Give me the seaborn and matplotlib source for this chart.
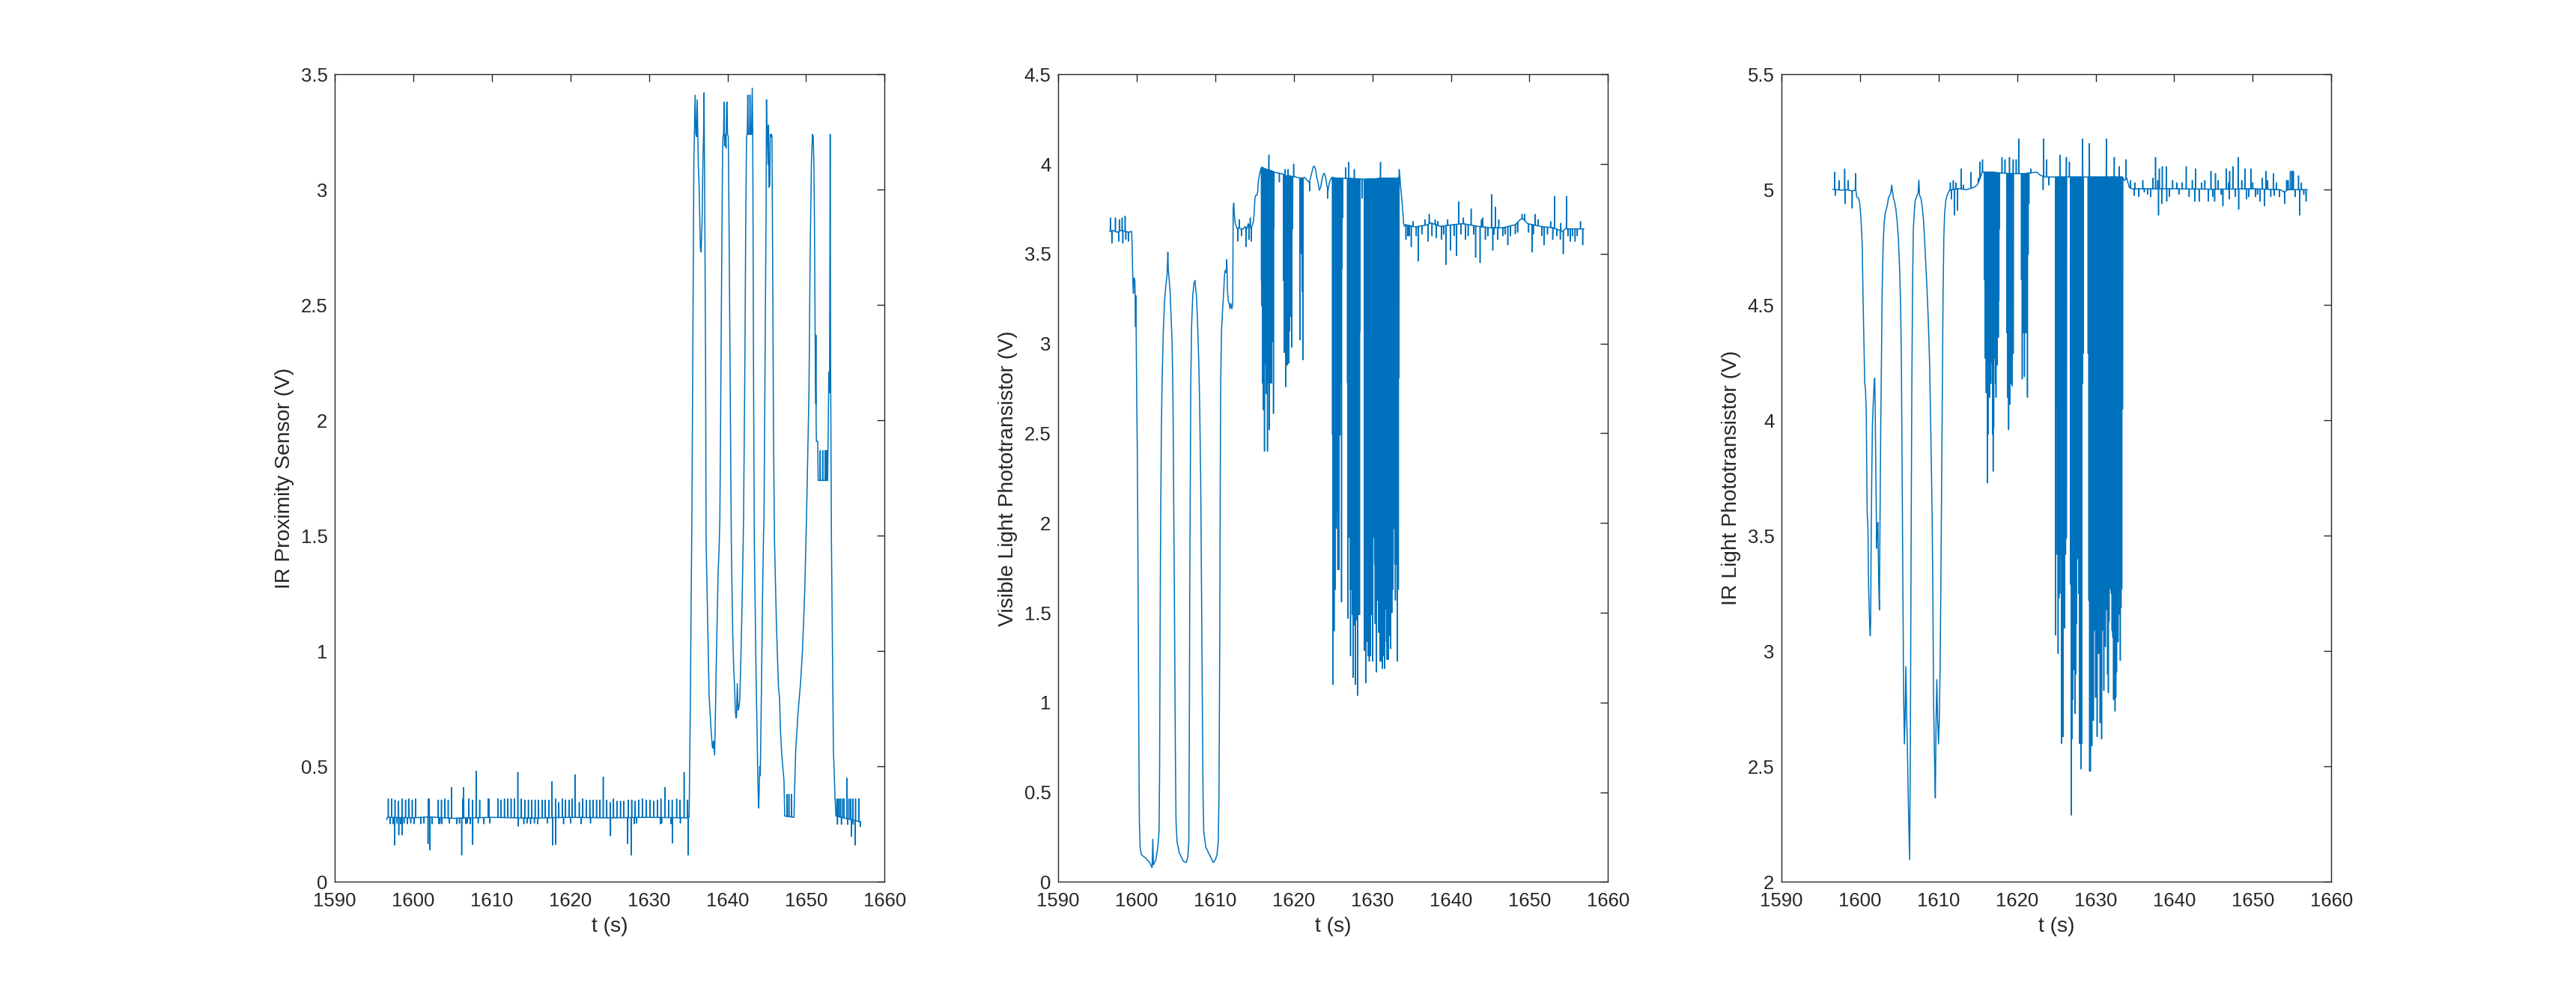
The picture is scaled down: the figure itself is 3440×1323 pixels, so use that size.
import numpy as np
import pandas as pd
import matplotlib
matplotlib.use("Agg")
import matplotlib.pyplot as plt
from matplotlib.ticker import FuncFormatter, MultipleLocator
import seaborn as sns

# ---------------- IR proximity sensor (left) ----------------
prox_t = [1596.58, 1596.70, 1600.0, 1602.0, 1605.0, 1610.0, 1615.0, 1620.0, 1625.0, 1630.0, 1635.0, 1635.11,
          1635.27, 1635.36, 1635.46, 1635.58, 1635.71, 1635.78, 1635.87, 1635.97, 1636.06, 1636.13, 1636.22,
          1636.28, 1636.38, 1636.44, 1636.54, 1636.63, 1636.76, 1636.86, 1636.95, 1637.01, 1637.11, 1637.21,
          1637.27, 1637.49, 1637.65, 1637.87, 1638.03, 1638.10, 1638.16, 1638.22, 1638.35, 1638.45, 1638.54,
          1638.67, 1638.80, 1638.92, 1639.02, 1639.11, 1639.24, 1639.37, 1639.43, 1639.49, 1639.56, 1639.62,
          1639.72, 1639.81, 1639.88, 1639.94, 1640.00, 1640.10, 1640.19, 1640.35, 1640.48, 1640.58, 1640.67,
          1640.77, 1640.89, 1640.99, 1641.08, 1641.15, 1641.24, 1641.34, 1641.47, 1641.56, 1641.72, 1641.85,
          1641.97, 1642.04, 1642.20, 1642.32, 1642.42, 1642.51, 1642.58, 1642.64, 1642.80, 1642.86, 1642.93,
          1643.05, 1643.15, 1643.21, 1643.25, 1643.31, 1643.41, 1643.63, 1643.75, 1643.85, 1643.95, 1644.01,
          1644.10, 1644.17, 1644.26, 1644.36, 1644.45, 1644.58, 1644.64, 1644.80, 1644.90, 1644.96, 1645.03,
          1645.06, 1645.15, 1645.22, 1645.28, 1645.38, 1645.44, 1645.53, 1645.60, 1645.66, 1645.76, 1645.85,
          1645.98, 1646.23, 1646.49, 1646.62, 1646.74, 1646.87, 1647.03, 1647.19, 1647.28, 1648.46, 1648.55,
          1648.68, 1648.97, 1649.29, 1649.54, 1649.83, 1650.05, 1650.37, 1650.52, 1650.68, 1650.81, 1650.91,
          1651.00, 1651.07, 1651.16, 1651.23, 1651.32, 1651.48, 1651.54, 1652.75, 1652.90, 1652.99, 1653.07,
          1653.13, 1653.23, 1653.39, 1653.48, 1653.58, 1653.67, 1653.80, 1656.98]
prox_v = [0.27, 0.28, 0.278, 0.282, 0.276, 0.28, 0.277, 0.28, 0.278, 0.28, 0.278, 0.28,
          0.79, 1.20, 1.57, 2.28, 3.11, 3.24, 3.41, 3.24, 3.23, 3.39, 3.24,
          3.10, 3.02, 2.92, 2.75, 2.73, 2.86, 3.11, 3.24, 3.42, 2.86, 2.21,
          1.48, 1.09, 0.81, 0.68, 0.60, 0.58, 0.60, 0.61, 0.55, 0.71, 0.90,
          1.12, 1.34, 1.44, 1.57, 1.96, 2.60, 3.18, 3.23, 3.24, 3.38, 3.19,
          3.24, 3.18, 3.37, 3.38, 3.24, 3.23, 2.86, 2.09, 1.48, 1.24, 1.07,
          0.94, 0.85, 0.745, 0.71, 0.72, 0.86, 0.745, 0.76, 0.79, 1.00, 1.20,
          1.43, 1.57, 2.21, 2.86, 3.23, 3.24, 3.41, 3.24, 3.24, 3.41, 3.24,
          3.24, 3.44, 3.24, 2.86, 2.21, 1.48, 0.90, 0.68, 0.46, 0.32, 0.37,
          0.50, 0.46, 0.68, 0.95, 1.22, 1.50, 1.57, 2.34, 2.86, 3.39, 3.20,
          3.27, 3.11, 3.28, 3.01, 3.02, 3.24, 3.23, 3.24, 3.23, 2.60, 1.96,
          1.48, 1.11, 0.84, 0.80, 0.66, 0.57, 0.50, 0.44, 0.286, 0.28, 0.41,
          0.57, 0.73, 0.86, 1.00, 1.26, 1.57, 2.12, 2.73, 3.11, 3.24, 3.23,
          3.11, 2.86, 2.34, 2.09, 1.91, 1.91, 1.74, 1.74, 2.21, 2.12, 3.24,
          2.21, 1.48, 0.90, 0.57, 0.48, 0.38, 0.286, 0.26]

# periodic upward pulses on the baseline
prox_up_t = [1596.80, 1597.22, 1597.66, 1598.11, 1598.55, 1599.00, 1599.44, 1599.85, 1600.27, 1601.92,
             1602.02, 1603.13, 1603.57, 1604.02, 1604.43, 1604.85, 1606.31, 1606.40, 1607.07, 1607.52,
             1607.99, 1608.44, 1609.52, 1609.61, 1610.76, 1611.17, 1611.59, 1612.03, 1612.44, 1612.86,
             1613.30, 1613.75, 1614.19, 1614.64, 1615.08, 1615.50, 1615.94, 1616.39, 1616.80, 1617.24,
             1617.66, 1618.13, 1618.52, 1618.96, 1619.37, 1619.82, 1620.23, 1620.61, 1621.12, 1621.57,
             1622.01, 1622.46, 1622.90, 1623.32, 1623.76, 1624.17, 1624.62, 1625.06, 1625.48, 1625.92,
             1626.37, 1626.78, 1627.35, 1627.80, 1628.24, 1628.69, 1629.16, 1629.64, 1630.12, 1630.60,
             1631.07, 1631.52, 1632.03, 1632.50, 1632.95, 1633.52, 1633.96, 1634.47, 1634.92,
             1653.93, 1654.12, 1654.34, 1654.59, 1654.82, 1655.20, 1655.45, 1655.71, 1655.96, 1656.30,
             1656.72, 1647.60, 1647.82, 1648.14, 1651.26, 1651.80, 1652.12, 1652.43, 1652.65]
prox_up_v = [0.36, 0.36, 0.355, 0.35, 0.36, 0.355, 0.36, 0.355, 0.36, 0.36,
             0.36, 0.355, 0.355, 0.36, 0.355, 0.41, 0.36, 0.41, 0.36, 0.355,
             0.48, 0.355, 0.36, 0.36, 0.36, 0.355, 0.36, 0.36, 0.36, 0.36,
             0.475, 0.36, 0.355, 0.355, 0.355, 0.355, 0.355, 0.355, 0.355, 0.355,
             0.435, 0.36, 0.345, 0.36, 0.355, 0.355, 0.36, 0.465, 0.345, 0.36,
             0.355, 0.355, 0.355, 0.355, 0.355, 0.455, 0.355, 0.345, 0.36, 0.35,
             0.35, 0.35, 0.355, 0.355, 0.35, 0.355, 0.36, 0.355, 0.355, 0.35,
             0.355, 0.36, 0.41, 0.355, 0.355, 0.36, 0.355, 0.475, 0.355,
             0.36, 0.36, 0.36, 0.36, 0.36, 0.45, 0.36, 0.36, 0.36, 0.36,
             0.36, 0.38, 0.38, 0.38, 2.37, 1.87, 1.87, 1.87, 1.87]
prox_down_t = [1597.60, 1598.14, 1598.58, 1601.86, 1602.11, 1606.15, 1607.55, 1613.36, 1617.72, 1618.10,
               1625.10, 1627.29, 1627.73, 1632.98, 1634.98, 1655.77, 1656.25, 1656.90,
               1597.02, 1597.44, 1597.92, 1598.36, 1598.81, 1599.25, 1599.66, 1600.08, 1600.93, 1601.35,
               1602.37, 1603.26, 1603.38, 1603.64, 1604.59, 1605.54, 1605.86, 1606.66, 1606.88, 1607.26,
               1608.25, 1608.98, 1609.74, 1614.06, 1614.51, 1614.92, 1615.40, 1615.81, 1617.05, 1619.12,
               1620.01, 1621.38, 1622.55, 1628.11, 1628.43, 1631.45, 1631.61, 1632.82, 1633.99,
               1654.00, 1654.50, 1655.30, 1656.00]
prox_down_v = [0.16, 0.204, 0.204, 0.166, 0.139, 0.117, 0.163, 0.242, 0.16, 0.163,
               0.20, 0.166, 0.117, 0.169, 0.117, 0.198, 0.16, 0.24,
               0.252, 0.252, 0.255, 0.252, 0.255, 0.252, 0.255, 0.252, 0.252, 0.255,
               0.252, 0.252, 0.255, 0.252, 0.255, 0.252, 0.255, 0.252, 0.255, 0.252,
               0.255, 0.252, 0.255, 0.252, 0.255, 0.252, 0.255, 0.252, 0.255, 0.252,
               0.255, 0.252, 0.255, 0.252, 0.255, 0.252, 0.255, 0.252, 0.255,
               0.25, 0.25, 0.25, 0.25]

# ---------------- Visible light phototransistor (middle) ----------------
vis_t = [1596.55, 1597.0, 1597.5, 1598.0, 1598.5, 1599.0, 1599.35, 1599.41, 1599.50, 1599.57, 1599.66, 1599.76,
         1599.85, 1599.89, 1599.98, 1600.08, 1600.14, 1600.20, 1600.27, 1600.33, 1600.43, 1600.59, 1601.16,
         1601.63, 1601.95, 1602.05, 1602.11, 1602.43, 1602.68, 1602.84, 1602.91, 1602.97, 1603.03, 1603.13,
         1603.22, 1603.38, 1603.54, 1603.70, 1603.86, 1603.96, 1604.02, 1604.11, 1604.24, 1604.34, 1604.50,
         1604.59, 1604.65, 1604.72, 1604.81, 1604.91, 1605.00, 1605.13, 1605.39, 1605.93, 1606.31, 1606.50,
         1606.63, 1606.69, 1606.75, 1606.82, 1606.88, 1606.98, 1607.13, 1607.29, 1607.42, 1607.52, 1607.61,
         1607.74, 1607.90, 1608.02, 1608.15, 1608.25, 1608.34, 1608.44, 1608.53, 1608.79, 1609.10, 1609.42,
         1609.74, 1610.00, 1610.22, 1610.38, 1610.47, 1610.57, 1610.63, 1610.69, 1610.79, 1610.92, 1611.08,
         1611.17, 1611.27, 1611.39, 1611.46, 1611.50, 1611.55, 1611.65, 1611.78, 1611.87, 1611.97, 1612.12,
         1612.22, 1612.28, 1612.35, 1612.44, 1612.54, 1612.67, 1612.79, 1612.98, 1613.24, 1613.56, 1613.81,
         1614.03, 1614.19, 1614.41, 1614.57, 1614.76, 1614.86, 1614.95, 1615.05, 1615.15, 1615.30, 1615.40,
         1615.46, 1615.62, 1615.78, 1615.91, 1616.5, 1617.0, 1617.5, 1618.0, 1618.6, 1619.0, 1620.0, 1621.0,
         1621.34, 1621.66, 1621.98, 1622.30, 1622.46, 1622.61, 1622.77, 1622.93, 1623.09, 1623.25, 1623.41,
         1623.57, 1623.73, 1623.89, 1624.05, 1624.20, 1624.36, 1624.52, 1624.68, 1624.84, 1625.5, 1627.0,
         1629.0, 1631.0, 1633.3, 1633.49, 1633.58, 1633.74, 1633.90, 1633.99, 1634.09, 1634.22, 1635.49,
         1637.08, 1637.40, 1638.67, 1640.26, 1641.53, 1643.44, 1645.03, 1646.62, 1648.20, 1648.84, 1649.16,
         1649.79, 1651.38, 1652.97, 1654.24, 1654.56, 1656.15, 1656.95]
vis_v = [3.625, 3.63, 3.62, 3.63, 3.625, 3.62, 3.625, 3.553, 3.352, 3.28, 3.366, 3.352,
         3.094, 3.266, 2.778, 2.348, 1.917, 1.343, 0.769, 0.339, 0.195, 0.152, 0.132,
         0.109, 0.080, 0.238, 0.095, 0.123, 0.195, 0.281, 0.626, 1.343, 1.917, 2.491,
         2.778, 3.065, 3.237, 3.323, 3.381, 3.510, 3.409, 3.366, 3.295, 3.180, 3.008,
         2.778, 2.491, 2.061, 1.487, 0.769, 0.339, 0.224, 0.166, 0.115, 0.109, 0.138,
         0.224, 0.769, 1.630, 2.204, 2.778, 3.094, 3.266, 3.338, 3.352, 3.295, 3.266,
         3.122, 2.893, 2.635, 2.204, 1.630, 1.056, 0.482, 0.281, 0.195, 0.166, 0.138,
         0.109, 0.123, 0.152, 0.224, 0.482, 1.343, 2.204, 2.778, 3.065, 3.180, 3.295,
         3.381, 3.409, 3.395, 3.467, 3.409, 3.295, 3.237, 3.223, 3.194, 3.223, 3.194,
         3.223, 3.754, 3.783, 3.711, 3.668, 3.653, 3.639, 3.645, 3.639, 3.639, 3.653,
         3.639, 3.668, 3.653, 3.639, 3.668, 3.682, 3.725, 3.811, 3.826, 3.826, 3.846,
         3.897, 3.940, 3.969, 3.983, 3.97, 3.965, 3.955, 3.95, 3.945, 3.935, 3.93, 3.92,
         3.926, 3.912, 3.897, 3.955, 3.983, 3.989, 3.969, 3.926, 3.897, 3.854, 3.869,
         3.912, 3.940, 3.949, 3.926, 3.883, 3.854, 3.897, 3.912, 3.926, 3.92, 3.92,
         3.915, 3.92, 3.92, 3.94, 3.883, 3.811, 3.725, 3.668, 3.653, 3.662, 3.650,
         3.662, 3.673, 3.653, 3.662, 3.668, 3.653, 3.645, 3.645, 3.662, 3.691, 3.696,
         3.668, 3.653, 3.645, 3.625, 3.639, 3.639, 3.639]

vis_spike_t = [1596.64, 1596.83, 1597.28, 1597.72, 1597.82, 1598.14, 1598.23, 1598.52, 1598.61, 1598.93,
               1612.89, 1613.33, 1613.90, 1614.29, 1614.60, 1613.05, 1614.45,
               1616.83, 1618.16, 1618.90, 1619.28, 1619.98, 1622.01, 1624.30, 1626.59, 1626.97, 1627.70,
               1628.72, 1631.04, 1633.42,
               1634.28, 1634.54, 1634.95, 1635.87, 1637.08, 1638.13, 1638.83, 1639.37, 1639.94, 1640.73,
               1641.85, 1643.15, 1643.72, 1644.39, 1645.34, 1645.98, 1646.62, 1647.25, 1648.20, 1650.33,
               1651.86, 1652.97, 1653.93, 1654.31, 1655.20, 1655.82, 1656.79,
               1637.24, 1638.35, 1640.99, 1642.58, 1644.07, 1645.18, 1645.66, 1649.06, 1650.75, 1653.20,
               1654.72]
vis_spike_v = [3.70, 3.56, 3.70, 3.57, 3.69, 3.70, 3.56, 3.71, 3.58, 3.57,
               3.57, 3.60, 3.54, 3.58, 3.57, 3.69, 3.70,
               4.05, 3.90, 3.97, 3.97, 4.00, 3.85, 3.81, 3.98, 4.01, 3.97,
               3.81, 4.01, 3.97,
               3.58, 3.60, 3.54, 3.46, 3.57, 3.59, 3.58, 3.44, 3.52, 3.49,
               3.58, 3.48, 3.45, 3.58, 3.52, 3.58, 3.60, 3.55, 3.61, 3.51,
               3.55, 3.58, 3.58, 3.50, 3.57, 3.57, 3.55,
               3.72, 3.68, 3.79, 3.75, 3.70, 3.83, 3.76, 3.72, 3.72, 3.82,
               3.82]
vis_noise_t = [1634.7, 1635.2, 1635.6, 1636.3, 1636.7, 1637.6, 1638.0, 1639.1, 1639.6, 1640.4,
               1641.3, 1641.6, 1642.2, 1642.9, 1643.9, 1644.7, 1645.5, 1646.1, 1646.9, 1647.6,
               1648.5, 1649.4, 1649.9, 1650.5, 1651.1, 1651.6, 1652.3, 1652.7, 1653.5, 1654.0,
               1654.9, 1655.5, 1656.1, 1656.5]
vis_noise_v = [3.60, 3.68, 3.60, 3.61, 3.69, 3.60, 3.69, 3.61, 3.69, 3.60,
               3.61, 3.70, 3.60, 3.61, 3.69, 3.60, 3.61, 3.69, 3.61, 3.60,
               3.62, 3.72, 3.62, 3.61, 3.69, 3.60, 3.61, 3.68, 3.60, 3.67,
               3.60, 3.60, 3.60, 3.68]

# dips of the dense bursts (depth of each dip, in order) and the span each burst covers
vis_burst_span = [(1615.88, 1617.47), (1618.70, 1619.85), (1620.77, 1621.18),
                  (1624.93, 1626.21), (1626.84, 1628.43), (1629.00, 1633.39)]
vis_burst_a = [3.35, 3.21, 2.78, 3.07, 2.63, 3.12, 2.40, 3.29, 2.89, 3.41, 2.72, 3.07, 2.40,
               3.21, 2.78, 3.50, 2.52, 3.12, 2.78, 2.89, 2.78, 3.55, 3.01, 3.29, 2.61, 3.64]
vis_burst_b = [3.35, 2.95, 3.50, 2.76, 3.21, 2.88, 3.41, 2.89, 3.07, 3.29, 3.15, 2.98, 3.64]
vis_burst_c = [3.02, 3.50, 3.64, 3.29, 2.91]
vis_burst_d = [2.49, 1.10, 2.20, 1.40, 2.32, 1.63, 2.15, 1.97, 2.06, 2.49, 1.74, 2.26, 1.74,
               2.63, 2.49, 2.78, 2.92, 1.56, 3.42, 3.70]
vis_burst_e = [2.78, 1.47, 2.49, 1.92, 2.20, 1.63, 1.26, 2.06, 1.63, 1.92, 1.49, 1.14, 1.77,
               1.43, 1.92, 1.57, 1.10, 1.63, 1.46, 1.77, 1.04, 1.92, 1.49, 2.49, 1.49, 3.07]
vis_burst_f = [1.29, 1.77, 1.11, 1.92, 1.59, 1.34, 1.26, 1.77, 1.23, 1.63, 1.26, 1.92, 1.49,
               1.63, 1.23, 1.92, 2.59, 1.77, 1.44, 1.63, 1.17, 1.92, 1.57, 1.77, 1.39, 1.63,
               1.23, 1.92, 1.23, 1.63, 1.19, 1.77, 1.26, 1.49, 1.19, 1.69, 1.52, 1.34, 1.24,
               1.92, 1.24, 1.77, 1.60, 1.37, 1.30, 1.92, 1.50, 1.77, 1.63, 2.06, 1.97, 1.77,
               1.57, 2.06, 1.77, 1.23, 2.20, 1.63, 2.81]

# ---------------- IR light phototransistor (right) ----------------
ir_t = [1596.52, 1597.0, 1597.6, 1598.3, 1599.0, 1599.47, 1599.57, 1599.79, 1599.95, 1600.11, 1600.27,
        1600.36, 1600.46, 1600.59, 1600.68, 1600.78, 1600.84, 1600.90, 1601.00, 1601.09, 1601.22, 1601.29,
        1601.35, 1601.41, 1601.48, 1601.57, 1601.67, 1601.79, 1601.86, 1601.92, 1602.02, 1602.11, 1602.17,
        1602.27, 1602.37, 1602.46, 1602.52, 1602.62, 1602.72, 1602.81, 1602.94, 1603.06, 1603.19, 1603.38,
        1603.51, 1603.61, 1603.76, 1603.92, 1604.02, 1604.15, 1604.24, 1604.40, 1604.56, 1604.72, 1604.88,
        1605.04, 1605.16, 1605.26, 1605.35, 1605.45, 1605.54, 1605.64, 1605.74, 1605.83, 1605.93, 1606.02,
        1606.15, 1606.31, 1606.40, 1606.50, 1606.59, 1606.69, 1606.78, 1606.91, 1607.01, 1607.13, 1607.26,
        1607.39, 1607.48, 1607.58, 1607.74, 1607.90, 1608.06, 1608.21, 1608.37, 1608.53, 1608.69, 1608.85,
        1609.01, 1609.17, 1609.26, 1609.36, 1609.49, 1609.58, 1609.68, 1609.77, 1609.87, 1609.99, 1610.09,
        1610.19, 1610.28, 1610.38, 1610.47, 1610.57, 1610.66, 1610.76, 1610.92, 1611.08, 1611.23, 1611.39,
        1612.5, 1613.5, 1614.5, 1614.89, 1615.21, 1615.53, 1615.69, 1617.0, 1619.0, 1621.0, 1622.52,
        1622.84, 1623.16, 1623.47, 1624.5, 1627.0, 1630.0, 1633.42, 1633.49, 1633.65, 1633.96, 1634.12,
        1634.28, 1634.60, 1640.0, 1645.0, 1650.0, 1653.5, 1654.0, 1654.5, 1656.95]
ir_v = [5.002, 5.0, 4.998, 5.0, 4.995, 4.998, 4.969, 4.964, 4.942, 4.875, 4.763,
        4.563, 4.384, 4.161, 4.138, 4.049, 3.826, 3.603, 3.536, 3.268, 3.112, 3.067,
        3.134, 3.491, 3.737, 3.982, 4.071, 4.161, 4.183, 4.049, 3.714, 3.446, 3.536,
        3.558, 3.290, 3.179, 3.491, 3.938, 4.272, 4.563, 4.763, 4.853, 4.897, 4.920,
        4.942, 4.964, 4.975, 4.987, 5.020, 4.987, 4.964, 4.946, 4.915, 4.864, 4.786,
        4.652, 4.496, 4.250, 3.804, 3.268, 2.821, 2.598, 2.732, 2.933, 2.710, 2.598,
        2.330, 2.096, 2.598, 3.491, 4.161, 4.607, 4.830, 4.908, 4.953, 4.964, 4.975,
        4.987, 5.042, 4.975, 4.964, 4.931, 4.875, 4.786, 4.674, 4.563, 4.429, 4.250,
        3.938, 3.603, 3.268, 2.777, 2.509, 2.364, 2.710, 2.877, 2.710, 2.598, 2.710,
        2.933, 3.268, 3.714, 4.161, 4.563, 4.786, 4.897, 4.953, 4.975, 4.987, 4.998,
        5.005, 5.0, 5.01, 5.02, 5.042, 5.076, 5.076, 5.075, 5.07, 5.07, 5.076,
        5.065, 5.06, 5.055, 5.055, 5.055, 5.055, 5.055, 5.05, 5.04, 5.05, 5.03,
        5.01, 5.004, 5.004, 5.002, 5.004, 5.0, 4.99, 5.0, 5.0]

ir_spike_t = [1596.77, 1596.87, 1597.31, 1598.04, 1598.11, 1598.49, 1598.99, 1599.41,
              1611.49, 1611.62, 1611.87, 1612.03, 1612.19, 1612.41, 1612.86, 1613.14, 1614.13, 1615.05,
              1615.27, 1615.59,
              1618.07, 1618.45, 1619.02, 1619.50, 1619.88, 1620.20, 1621.73, 1623.38, 1623.73, 1625.48,
              1626.27, 1626.65, 1628.34, 1629.20, 1631.36, 1632.37, 1633.01, 1633.87, 1623.31, 1624.05,
              1634.44, 1637.30, 1637.62, 1638.10, 1638.48, 1638.99, 1640.32, 1641.53, 1642.71, 1643.50,
              1644.68, 1645.25, 1646.62, 1647.06, 1647.47, 1648.14, 1649.00, 1649.76, 1651.23, 1651.70,
              1652.62, 1654.31, 1654.79, 1655.01, 1655.17, 1655.83,
              1634.92, 1636.19, 1638.00, 1638.41, 1639.05, 1642.61, 1643.18, 1644.36, 1645.15, 1646.20,
              1647.00, 1648.21, 1649.22, 1650.34, 1650.91, 1651.51, 1652.72, 1654.05, 1655.99, 1656.79]
ir_spike_v = [5.076, 4.975, 5.04, 5.09, 4.94, 5.04, 4.92, 5.07,
              5.03, 4.96, 5.04, 4.89, 5.03, 4.91, 5.09, 5.02, 5.075, 5.05,
              5.12, 5.13,
              5.14, 5.13, 5.14, 5.13, 5.13, 5.22, 5.09, 5.22, 5.13, 5.15,
              5.14, 5.12, 5.22, 5.20, 5.22, 5.14, 5.10, 5.13, 5.00, 5.02,
              5.04, 5.05, 5.14, 5.09, 5.10, 5.10, 5.03, 5.10, 5.09, 5.03,
              5.08, 5.07, 5.09, 5.08, 5.10, 5.14, 5.09, 5.09, 5.05, 5.08,
              5.07, 5.04, 5.08, 5.08, 5.08, 5.06,
              4.975, 4.99, 4.89, 4.94, 4.95, 4.95, 4.95, 4.95, 4.95, 4.93,
              4.96, 4.915, 4.96, 4.97, 4.95, 4.93, 4.975, 4.94, 4.89, 4.95]
ir_noise_t = [1635.0, 1635.5, 1636.0, 1636.6, 1637.0, 1637.9, 1639.4, 1639.8, 1640.6, 1641.0,
              1641.9, 1642.3, 1643.9, 1644.9, 1645.6, 1646.0, 1646.9, 1647.8, 1648.6, 1649.5,
              1650.0, 1650.6, 1651.9, 1652.3, 1653.0, 1653.4, 1654.5, 1655.4, 1656.2, 1656.5]
ir_noise_v = [5.03, 4.97, 5.04, 4.98, 4.97, 5.04, 4.97, 5.04, 4.98, 5.03,
              4.97, 5.04, 5.04, 4.97, 5.04, 4.98, 5.03, 4.97, 5.04, 4.97,
              5.03, 4.98, 5.04, 4.97, 5.03, 4.97, 5.04, 4.97, 5.03, 4.98]

ir_burst_span = [(1615.84, 1617.75), (1618.70, 1619.50), (1620.55, 1621.50),
                 (1624.90, 1626.27), (1626.81, 1628.40), (1629.04, 1633.42)]
ir_burst_g = [4.61, 4.27, 4.43, 4.12, 4.38, 3.73, 3.94, 4.25, 4.47, 4.10, 4.34, 4.16, 4.43, 4.25,
              3.94, 3.78, 3.97, 4.27, 4.43, 4.16, 4.10, 4.45, 4.24, 4.50, 4.36, 4.52, 4.83]
ir_burst_h = [4.38, 4.10, 4.43, 3.96, 4.27, 4.07, 4.34, 4.16, 4.38, 4.15, 4.34, 4.29]
ir_burst_i = [4.61, 4.18, 4.50, 4.38, 4.19, 4.56, 4.38, 4.61, 4.10, 4.72, 4.94]
ir_burst_j = [3.07, 4.05, 3.42, 2.99, 3.23, 3.25, 3.42, 2.60, 3.00, 2.63, 3.49, 3.10, 3.42, 3.49]
ir_burst_k = [3.29, 2.29, 2.62, 2.79, 2.92, 3.18, 2.73, 2.90, 3.12, 3.67, 3.40, 3.25, 2.60, 3.06,
              2.49, 2.60, 4.16, 4.29]
ir_burst_l = [4.29, 3.22, 2.48, 2.48, 3.22, 2.59, 2.75, 2.70, 3.09, 3.27, 2.80, 3.07, 2.63, 3.17,
              2.99, 3.27, 2.69, 3.22, 2.62, 3.09, 3.25, 2.83, 3.13, 3.02, 3.29, 3.18, 2.90, 2.82,
              3.13, 3.38, 3.27, 3.25, 3.09, 3.06, 2.79, 2.98, 2.74, 2.80, 2.91, 3.16, 3.04, 3.54,
              3.16, 2.96, 3.19, 3.27, 4.05]


def build(t, v, spike_t, spike_v, spans=(), bursts=()):
    # put every spike on top of the traced curve as a thin needle
    st = list(spike_t)
    sv = list(spike_v)
    for (start, end), depths in zip(spans, bursts):
        st += list(np.linspace(start, end, len(depths)))
        sv += list(depths)
    t = np.asarray(t, float)
    v = np.asarray(v, float)
    st = np.asarray(st, float)
    sv = np.asarray(sv, float)
    hw = 0.02
    xs = np.concatenate([t, st - hw, st, st + hw])
    ys = np.concatenate([v, np.interp(st - hw, t, v), sv, np.interp(st + hw, t, v)])
    order = np.argsort(xs, kind="mergesort")
    return pd.DataFrame({"t": xs[order], "v": ys[order]})


df_prox = build(prox_t, prox_v, prox_up_t + prox_down_t, prox_up_v + prox_down_v)
df_vis = build(vis_t, vis_v, vis_spike_t + vis_noise_t, vis_spike_v + vis_noise_v,
               vis_burst_span, [vis_burst_a, vis_burst_b, vis_burst_c,
                                vis_burst_d, vis_burst_e, vis_burst_f])
df_ir = build(ir_t, ir_v, ir_spike_t + ir_noise_t, ir_spike_v + ir_noise_v,
              ir_burst_span, [ir_burst_g, ir_burst_h, ir_burst_i,
                              ir_burst_j, ir_burst_k, ir_burst_l])

sns.set_theme(style="white")
plt.rcParams['font.family'] = ['Liberation Sans', 'DejaVu Sans']

line_color = "#0072BD"
ink = "#262626"

fig = plt.figure(figsize=(34.4, 13.23), dpi=100)
panels = [
    (df_prox, [0.13, 0.11, 0.2134, 0.815], (0, 3.5), "IR Proximity Sensor (V)"),
    (df_vis, [0.4108, 0.11, 0.2134, 0.815], (0, 4.5), "Visible Light Phototransistor (V)"),
    (df_ir, [0.6916, 0.11, 0.2134, 0.815], (2, 5.5), "IR Light Phototransistor (V)"),
]

for df, pos, ylim, ylabel in panels:
    ax = fig.add_axes(pos)
    sns.lineplot(data=df, x="t", y="v", ax=ax, color=line_color, linewidth=1.1,
                 estimator=None, sort=False)
    ax.set_xlim(1590, 1660)
    ax.set_ylim(*ylim)
    ax.set_xticks(range(1590, 1661, 10))
    ax.yaxis.set_major_locator(MultipleLocator(0.5))
    ax.yaxis.set_major_formatter(FuncFormatter(lambda y, _: f"{y:g}"))
    ax.tick_params(direction="in", length=7.2, width=1.0, colors=ink, labelcolor=ink,
                   labelsize=18.5, top=True, right=True, pad=7)
    ax.tick_params(axis="x", pad=10)
    for sp in ax.spines.values():
        sp.set_visible(True)
        sp.set_color(ink)
        sp.set_linewidth(1.0)
    ax.set_xlabel("t (s)", fontsize=20.3, color=ink, labelpad=6)
    ax.set_ylabel(ylabel, fontsize=20.3, color=ink, labelpad=6)
    ax.grid(False)

fig.savefig("out.png", dpi=100, facecolor="white")
